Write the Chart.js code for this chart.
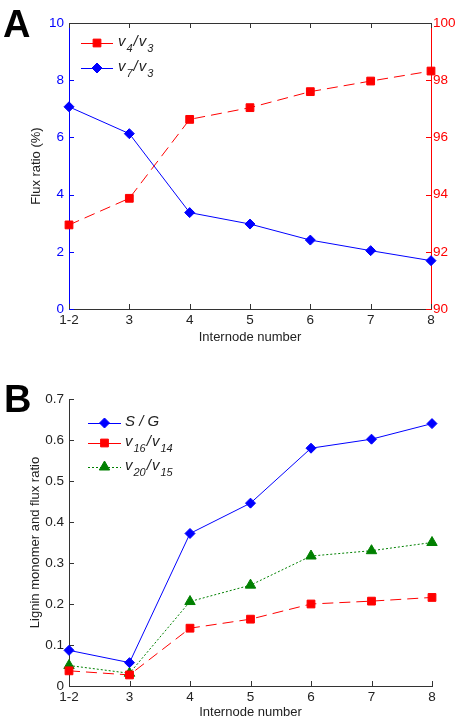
<!DOCTYPE html>
<html>
<head>
<meta charset="utf-8">
<script src="https://cdn.jsdelivr.net/npm/chart.js@4.4.0/dist/chart.umd.min.js"></script>
<style>
  body { margin: 0; background: #fff; width: 461px; height: 723px; position: relative; overflow: hidden; font-family: "Liberation Sans", Arial, sans-serif; }
  canvas { position: absolute; left: 0; }
  #chartA { top: 0; }
  #chartB { top: 361px; }
  .tag { position: absolute; font-weight: bold; font-size: 38px; line-height: 38px; color: #000; }
</style>
</head>
<body>
<canvas id="chartA" width="461" height="361"></canvas>
<canvas id="chartB" width="461" height="362"></canvas>
<div class="tag" style="left:3px;top:5px">A</div>
<div class="tag" style="left:4px;top:380px">B</div>
<script>
// categories
const internodes = ['1-2', '3', '4', '5', '6', '7', '8'];

// panel A (flux ratio, %)
const v4v3 = [92.94, 93.87, 96.63, 97.04, 97.6, 97.97, 98.32];   // right axis
const v7v3 = [7.07, 6.13, 3.37, 2.97, 2.41, 2.04, 1.69];         // left axis

// panel B
const sg = [0.087, 0.057, 0.372, 0.446, 0.58, 0.602, 0.64];
const v16v14 = [0.037, 0.027, 0.141, 0.163, 0.2, 0.207, 0.216];
const v20v15 = [0.05, 0.031, 0.206, 0.246, 0.317, 0.33, 0.35];

const blue = '#0000ff';
const red = '#ff0000';
const green = '#008000';
const ink = '#222';

Chart.defaults.font.family = '"Liberation Sans", Arial, sans-serif';

// MATLAB style ticks pointing into the plot
const inwardTicks = {
  id: 'inwardTicks',
  beforeDatasetsDraw(chart, args, opts) {
    const ctx = chart.ctx, a = chart.chartArea;
    ctx.save();
    ctx.lineWidth = 1;
    Object.values(chart.scales).forEach(s => {
      ctx.strokeStyle = s.options.border.color;
      ctx.beginPath();
      s.ticks.forEach((t, i) => {
        const p = Math.round(s.getPixelForTick(i)) + 0.5;
        if (s.isHorizontal()) {
          ctx.moveTo(p, a.bottom); ctx.lineTo(p, a.bottom - 5);
          if (opts.box) { ctx.moveTo(p, a.top); ctx.lineTo(p, a.top + 5); }
        } else if (s.position === 'left') {
          ctx.moveTo(a.left, p); ctx.lineTo(a.left + 5, p);
        } else {
          ctx.moveTo(a.right, p); ctx.lineTo(a.right - 5, p);
        }
      });
      ctx.stroke();
    });
    if (opts.box) {
      ctx.strokeStyle = '#333';
      ctx.beginPath();
      ctx.moveTo(a.left, Math.round(a.top) + 0.5);
      ctx.lineTo(a.right, Math.round(a.top) + 0.5);
      ctx.stroke();
    }
    ctx.restore();
  }
};

// legend with italic labels and subscripts
const panelLegend = {
  id: 'panelLegend',
  afterDraw(chart, args, opts) {
    const ctx = chart.ctx;
    ctx.save();
    opts.items.forEach(it => {
      const y = it.y;
      ctx.strokeStyle = it.color;
      ctx.fillStyle = it.color;
      ctx.lineWidth = 1;
      ctx.setLineDash(it.dash);
      ctx.beginPath();
      ctx.moveTo(opts.x0, y + 0.5);
      ctx.lineTo(opts.x1, y + 0.5);
      ctx.stroke();
      ctx.setLineDash([]);
      Chart.helpers.drawPoint(ctx, { pointStyle: it.style, radius: it.radius, borderWidth: 1, rotation: 0 }, (opts.x0 + opts.x1) / 2, y);
      let x = opts.tx;
      ctx.fillStyle = ink;
      ctx.textBaseline = 'alphabetic';
      it.parts.forEach(p => {
        ctx.font = p.sub ? 'italic 11px "Liberation Sans", Arial' : 'italic 15px "Liberation Sans", Arial';
        ctx.fillText(p.t, x, y + (p.sub ? 9 : 3));
        x += ctx.measureText(p.t).width + 1;
      });
    });
    ctx.restore();
  }
};

const tickFont = { size: 13.5 };
const titleFont = { size: 13 };

new Chart(document.getElementById('chartA'), {
  type: 'line',
  data: {
    labels: internodes,
    datasets: [
      { label: 'v4/v3', data: v4v3, yAxisID: 'yR', borderColor: red, backgroundColor: red, borderWidth: 1, borderDash: [11, 6],
        pointStyle: 'rect', pointRadius: 5.5, pointBorderWidth: 1, clip: false },
      { label: 'v7/v3', data: v7v3, yAxisID: 'yL', borderColor: blue, backgroundColor: blue, borderWidth: 1,
        pointStyle: 'rectRot', pointRadius: 5, pointBorderWidth: 1, clip: false }
    ]
  },
  options: {
    responsive: false, animation: false, devicePixelRatio: 1,
    layout: { padding: { top: 23, left: 0, right: 0, bottom: 0 } },
    plugins: {
      legend: { display: false }, tooltip: { enabled: false },
      inwardTicks: { box: true },
      panelLegend: {
        x0: 81, x1: 113, tx: 118,
        items: [
          { y: 43, color: red, dash: [], style: 'rect', radius: 5.5, parts: [{ t: 'v' }, { t: '4', sub: true }, { t: '/' }, { t: 'v' }, { t: '3', sub: true }] },
          { y: 68, color: blue, dash: [], style: 'rectRot', radius: 5, parts: [{ t: 'v' }, { t: '7', sub: true }, { t: '/' }, { t: 'v' }, { t: '3', sub: true }] }
        ]
      }
    },
    scales: {
      x: {
        offset: false,
        grid: { display: false, drawTicks: false },
        border: { color: '#333' },
        ticks: { color: ink, font: tickFont, padding: 3, maxRotation: 0, autoSkip: false },
        title: { display: true, text: 'Internode number', color: ink, font: titleFont, padding: { top: 0, bottom: 16 } },
        afterFit(s) { s.height = 52; }
      },
      yL: {
        position: 'left', min: 0, max: 10,
        grid: { display: false, drawTicks: false },
        border: { color: blue },
        ticks: { stepSize: 2, color: blue, font: tickFont, padding: 5 },
        title: { display: true, text: 'Flux ratio (%)', color: ink, font: titleFont, padding: { top: 29, bottom: 0 } },
        afterFit(s) { s.width = 69; }
      },
      yR: {
        position: 'right', min: 90, max: 100,
        grid: { display: false, drawTicks: false },
        border: { color: red },
        ticks: { stepSize: 2, color: red, font: tickFont, padding: 2 },
        afterFit(s) { s.width = 30; }
      }
    }
  },
  plugins: [inwardTicks, panelLegend]
});

new Chart(document.getElementById('chartB'), {
  type: 'line',
  data: {
    labels: internodes,
    datasets: [
      { label: 'S/G', data: sg, borderColor: blue, backgroundColor: blue, borderWidth: 1,
        pointStyle: 'rectRot', pointRadius: 5, pointBorderWidth: 1, clip: false },
      { label: 'v16/v14', data: v16v14, borderColor: red, backgroundColor: red, borderWidth: 1, borderDash: [11, 6],
        pointStyle: 'rect', pointRadius: 5.5, pointBorderWidth: 1, clip: false },
      { label: 'v20/v15', data: v20v15, borderColor: green, backgroundColor: green, borderWidth: 1, borderDash: [2, 2],
        pointStyle: 'triangle', pointRadius: 6, pointBorderWidth: 1, clip: false }
    ]
  },
  options: {
    responsive: false, animation: false, devicePixelRatio: 1,
    layout: { padding: { top: 38, left: 0, right: 29, bottom: 0 } },
    plugins: {
      legend: { display: false }, tooltip: { enabled: false },
      inwardTicks: { box: false },
      panelLegend: {
        x0: 88, x1: 121, tx: 125,
        items: [
          { y: 62, color: blue, dash: [], style: 'rectRot', radius: 5, parts: [{ t: 'S / G' }] },
          { y: 82, color: red, dash: [], style: 'rect', radius: 5.5, parts: [{ t: 'v' }, { t: '16', sub: true }, { t: '/' }, { t: 'v' }, { t: '14', sub: true }] },
          { y: 106, color: green, dash: [2, 2], style: 'triangle', radius: 6, parts: [{ t: 'v' }, { t: '20', sub: true }, { t: '/' }, { t: 'v' }, { t: '15', sub: true }] }
        ]
      }
    },
    scales: {
      x: {
        offset: false,
        grid: { display: false, drawTicks: false },
        border: { color: '#333' },
        ticks: { color: ink, font: tickFont, padding: 3, maxRotation: 0, autoSkip: false },
        title: { display: true, text: 'Internode number', color: ink, font: titleFont, padding: { top: 0, bottom: 3 } },
        afterFit(s) { s.height = 37; }
      },
      y: {
        position: 'left', min: 0, max: 0.7,
        grid: { display: false, drawTicks: false },
        border: { color: '#333' },
        ticks: { stepSize: 0.1, color: ink, font: tickFont, padding: 5, callback: v => String(Number(v.toFixed(1))) },
        title: { display: true, text: 'Lignin monomer and flux ratio', color: ink, font: titleFont, padding: { top: 28, bottom: 0 } },
        afterFit(s) { s.width = 69; }
      }
    }
  },
  plugins: [inwardTicks, panelLegend]
});
</script>
</body>
</html>
